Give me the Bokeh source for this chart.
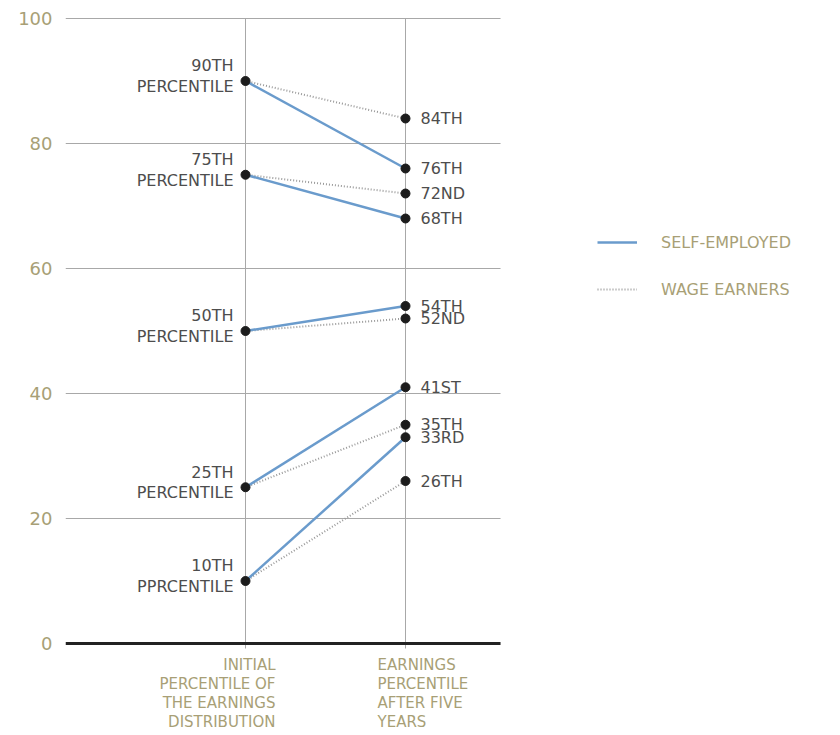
from bokeh.plotting import figure
from bokeh.models import Range1d, FixedTicker, Legend, LegendItem, ColumnDataSource
from bokeh.core.properties import value
from bokeh.embed import file_html
from bokeh.resources import INLINE

# ---- data ----
initial = [90, 75, 50, 25, 10]
self_employed = [76, 68, 54, 41, 33]
wage_earners = [84, 72, 52, 35, 26]
left_labels = ["90TH\nPERCENTILE", "75TH\nPERCENTILE", "50TH\nPERCENTILE",
               "25TH\nPERCENTILE", "10TH\nPPRCENTILE"]
x_categories = ["INITIAL\nPERCENTILE OF\nTHE EARNINGS\nDISTRIBUTION",
                "EARNINGS\nPERCENTILE\nAFTER FIVE\nYEARS"]
y_ticks = [0, 20, 40, 60, 80, 100]
series_names = ["SELF-EMPLOYED", "WAGE EARNERS"]

X0, X1 = 1, 2
X_START, X_GRID_END, X_END = -0.125, 2.594, 4.6875
FONT = "DejaVu Sans"
OLIVE = "#a89f76"
DARK = "#4d4d4d"
GRID = "#a8a8a8"


def ordinal(n):
    if 10 <= n % 100 <= 20:
        suf = "TH"
    else:
        suf = {1: "ST", 2: "ND", 3: "RD"}.get(n % 10, "TH")
    return f"{n}{suf}"


p = figure(width=835, height=735, x_range=Range1d(X_START, X_END), y_range=Range1d(-14.72, 101.28),
           output_backend="svg", toolbar_location=None, x_axis_location=None,
           min_border_left=65, min_border_top=10, min_border_bottom=0, min_border_right=0)
p.outline_line_color = None
p.xgrid.visible = False
p.ygrid.visible = False
p.yaxis.ticker = FixedTicker(ticks=y_ticks)
p.yaxis.axis_line_color = None
p.yaxis.major_tick_line_color = None
p.yaxis.minor_tick_line_color = None
p.yaxis.major_label_standoff = 7
p.yaxis.major_label_text_color = OLIVE
p.yaxis.major_label_text_font = FONT
p.yaxis.major_label_text_font_size = "18px"

# horizontal grid lines (limited to the chart area)
grid_y = [t for t in y_ticks if t != 0]
p.segment(x0=[X_START] * len(grid_y), x1=[X_GRID_END] * len(grid_y), y0=grid_y, y1=grid_y,
          line_color=GRID, line_width=1)
# vertical lines at the two categories
p.segment(x0=[X0, X1], x1=[X0, X1], y0=[-0.8, -0.8], y1=[100, 100], line_color=GRID, line_width=1)
# zero baseline
p.segment(x0=[X_START], x1=[X_GRID_END], y0=[0], y1=[0], line_color="#222222", line_width=3)

xs = [[X0, X1] for _ in initial]
se_src = ColumnDataSource(dict(xs=xs, ys=[[a, b] for a, b in zip(initial, self_employed)]))
we_src = ColumnDataSource(dict(xs=xs, ys=[[a, b] for a, b in zip(initial, wage_earners)]))
r_we = p.multi_line("xs", "ys", source=we_src, line_color="#999999", line_width=2, line_dash="1 2")
r_se = p.multi_line("xs", "ys", source=se_src, line_color="#6a9bcc", line_width=2.5)

pts_x = [X0] * len(initial) + [X1] * (len(self_employed) + len(wage_earners))
pts_y = initial + self_employed + wage_earners
p.scatter(pts_x, pts_y, size=9, color="#1c1c1c")

# left labels
p.text(x=[X0] * len(initial), y=initial, text=left_labels, text_align="right",
       text_baseline="bottom", x_offset=-12, y_offset=15, text_font=value(FONT),
       text_font_size="16px", text_color=DARK, text_line_height=1.09)

# right labels
right_y = self_employed + wage_earners
right_text = [ordinal(v) for v in right_y]
p.text(x=[X1] * len(right_y), y=right_y, text=right_text, text_align="left",
       text_baseline="middle", x_offset=15, text_font=value(FONT),
       text_font_size="16px", text_color=DARK)

# x category labels
p.text(x=[X0], y=[0], text=[x_categories[0]], text_align="right", text_baseline="top",
       x_offset=30, y_offset=12, text_font=value(FONT), text_font_size="15px",
       text_color=OLIVE, text_line_height=1.07)
p.text(x=[X1], y=[0], text=[x_categories[1]], text_align="left", text_baseline="top",
       x_offset=-28, y_offset=12, text_font=value(FONT), text_font_size="15px",
       text_color=OLIVE, text_line_height=1.07)

legend = Legend(items=[LegendItem(label=series_names[0], renderers=[r_se]),
                       LegendItem(label=series_names[1], renderers=[r_we])],
                location=(532, 436), glyph_width=40, glyph_height=20, label_standoff=24,
                spacing=27, label_text_font=FONT, label_text_font_size="16px",
                label_text_color=OLIVE, border_line_color=None, background_fill_alpha=0,
                padding=0, margin=0, label_height=20)
p.add_layout(legend, "center")

open("out.html", "w").write(file_html(p, INLINE))
